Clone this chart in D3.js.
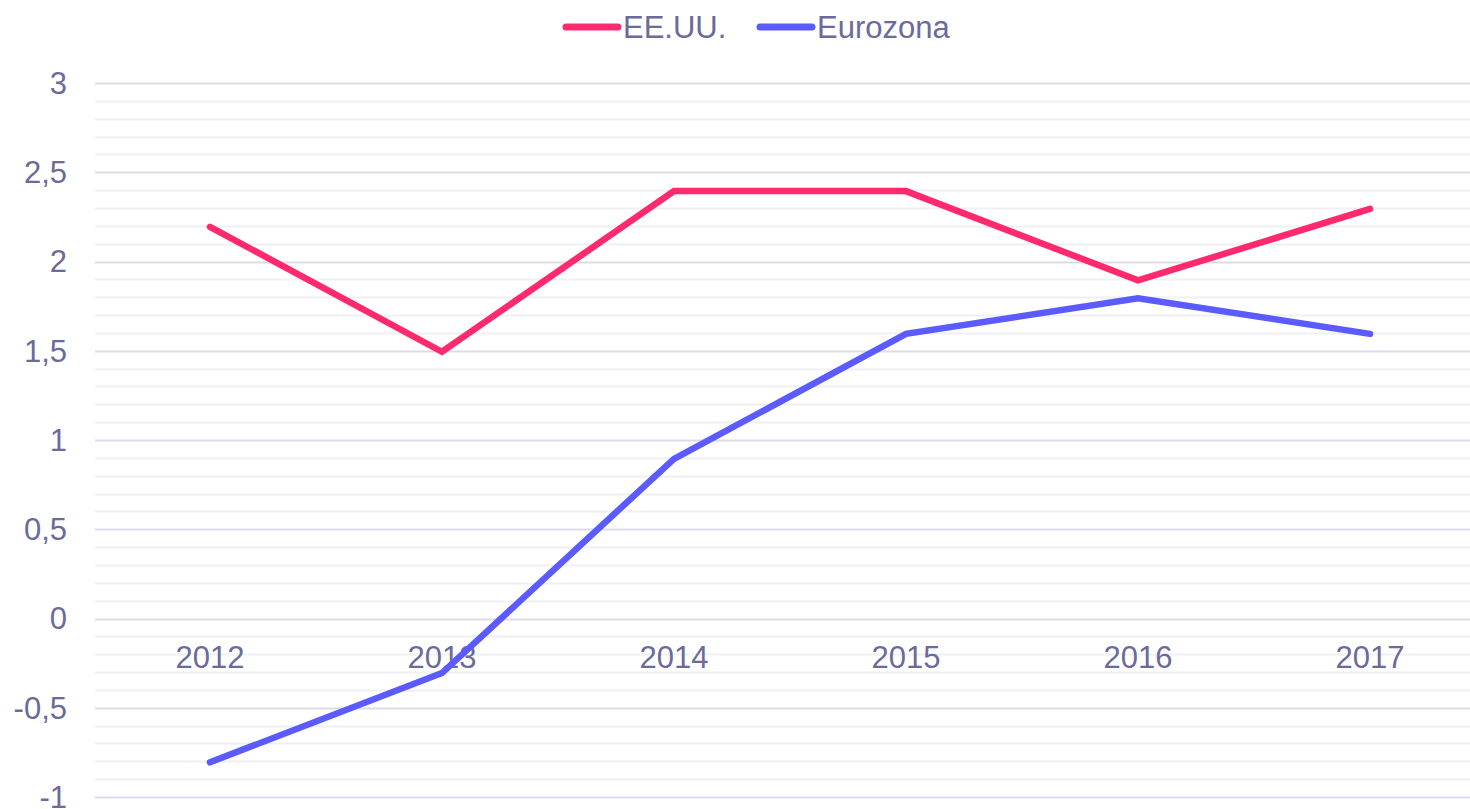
<!DOCTYPE html>
<meta charset="utf-8">
<head>
<script src="https://cdn.jsdelivr.net/npm/d3@7"></script>
<style>
	body { margin: 0; background: #fff; }
	svg { display: block; font-family: "Liberation Sans", Arial, sans-serif; }
	.lbl { fill: #6b6b9b; font-size: 31px; }
</style>
</head>
<body>
<div id="chart"></div>
<script>

// data
const years = ['2012', '2013', '2014', '2015', '2016', '2017']
const seriesNames = ['EE.UU.', 'Eurozona']
const usa = [2.2, 1.5, 2.4, 2.4, 1.9, 2.3]
const eurozone = [-0.8, -0.3, 0.9, 1.6, 1.8, 1.6]
const yTicks = [-1, -0.5, 0, 0.5, 1, 1.5, 2, 2.5, 3]
const colors = ['#ff2a6d', '#5b5bff']

const W = 1470, H = 809
const margin = {top: 83, right: 0, bottom: 12, left: 95}

const svg = d3.select('#chart').append('svg')
	.attr('width', W)
	.attr('height', H)

const x = d3.scaleBand()
	.domain(years)
	.range([94, 94 + 232 * years.length])

const y = d3.scaleLinear()
	.domain([-1, 3])
	.range([H - margin.bottom, margin.top])

// comma decimals, plain hyphen for negatives
const fmt = d3.formatLocale({decimal: ',', thousands: '.', grouping: [3], currency: ['', '€'], minus: '-'}).format(',')

////////////////////////////////////
// GRID
////////////////////////////////////

const minor = d3.range(-10, 31).map(d => d / 10).filter(d => Math.abs(d * 2 - Math.round(d * 2)) > 1e-6)

svg.append('g').selectAll('line')
	.data(minor)
	.enter().append('line')
	.attr('x1', margin.left).attr('x2', W)
	.attr('y1', d => Math.round(y(d)) + 0.5).attr('y2', d => Math.round(y(d)) + 0.5)
	.attr('stroke', '#f0f0f6')
	.attr('stroke-width', 2)

svg.append('g').selectAll('line')
	.data(yTicks)
	.enter().append('line')
	.attr('x1', margin.left).attr('x2', W)
	.attr('y1', d => Math.round(y(d)) + 0.5).attr('y2', d => Math.round(y(d)) + 0.5)
	.attr('stroke', '#dcdce8')
	.attr('stroke-width', 2)

// y labels
svg.append('g').selectAll('text')
	.data(yTicks)
	.enter().append('text')
	.attr('class', 'lbl')
	.attr('x', 67)
	.attr('y', d => y(d))
	.attr('dy', '0.35em')
	.attr('text-anchor', 'end')
	.text(d => fmt(d))

// x labels, sitting just under the zero line
svg.append('g').selectAll('text')
	.data(years)
	.enter().append('text')
	.attr('class', 'lbl')
	.attr('x', d => x(d) + x.bandwidth() / 2)
	.attr('y', y(0) + 49)
	.attr('text-anchor', 'middle')
	.text(d => d)

////////////////////////////////////
// LINES
////////////////////////////////////

const line = d3.line()
	.x((d, i) => x(years[i]) + x.bandwidth() / 2)
	.y(d => y(d) + 1)

svg.append('g').selectAll('path')
	.data([usa, eurozone])
	.enter().append('path')
	.attr('d', line)
	.attr('fill', 'none')
	.attr('stroke', (d, i) => colors[i])
	.attr('stroke-width', 6.5)
	.attr('stroke-linejoin', 'miter')
	.attr('stroke-linecap', 'round')

////////////////////////////////////
// LEGEND
////////////////////////////////////

const legendX = [566, 760]
const legend = svg.append('g').selectAll('g')
	.data(seriesNames)
	.enter().append('g')
	.attr('transform', (d, i) => `translate(${legendX[i]}, 27)`)

legend.append('line')
	.attr('x1', 0).attr('x2', 52)
	.attr('stroke', (d, i) => colors[i])
	.attr('stroke-width', 7)
	.attr('stroke-linecap', 'round')

legend.append('text')
	.attr('class', 'lbl')
	.attr('x', 57)
	.attr('dy', '0.36em')
	.text(d => d)

</script>
</body>
